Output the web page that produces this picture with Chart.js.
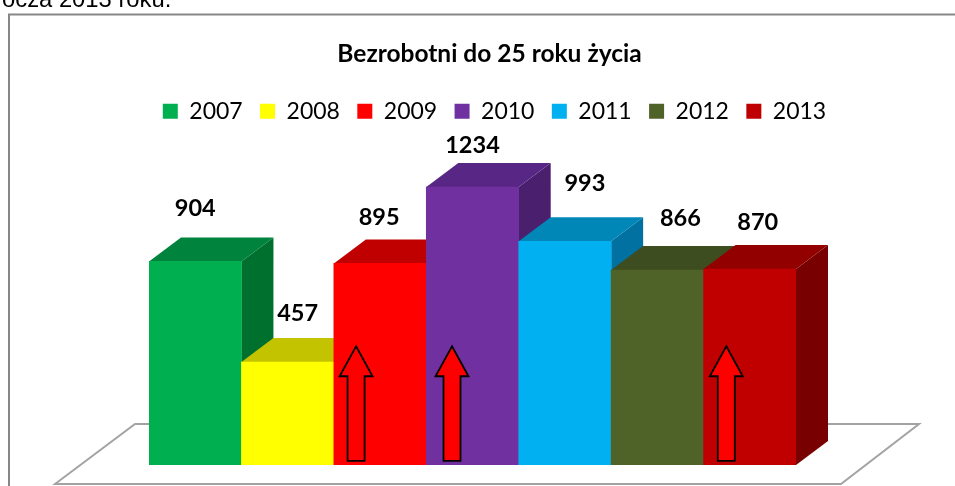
<!DOCTYPE html>
<html lang="pl"><head><meta charset="utf-8">
<style>
html,body{margin:0;padding:0;background:#fff;width:955px;height:486px;overflow:hidden}
#wrap{position:absolute;left:0;top:0;width:955px;height:486px}
#cap{position:absolute;left:2px;top:-16px;font:23.8px "Liberation Sans",Arial,sans-serif;color:#000;white-space:nowrap;line-height:30px}
</style></head><body>
<div id="wrap"><canvas id="c" width="955" height="486"></canvas></div>
<div id="cap">ocza 2013 roku.</div>
<script src="https://cdn.jsdelivr.net/npm/chart.js@4/dist/chart.umd.min.js"></script>
<script>
const titleText = "Bezrobotni do 25 roku życia";
const years = ["2007","2008","2009","2010","2011","2012","2013"];
const values = [904,457,895,1234,993,866,870];
const frontColors = ["#00B050","#FFFF00","#FF0000","#7030A0","#00B0F0","#4F6228","#C00000"];
const topColors = ["#00833C","#C3C300","#C00000","#582785","#0087B8","#3E4D20","#930000"];
const sideColors = ["#00702F","#A5A500","#A00000","#4A1F6D","#0071A0","#36431C","#780000"];
const labelOffsetX = [0,10,-1,0,20,23,8];
const labelOffsetY = [53,49,46,42,58,52,47];
const arrowYears = ["2009","2010","2013"];
const arrowOffsetX = [-24,-20.5,-23.5];

const DX = 32, DY = 24;
const scene = {
  id:"scene",
  afterLayout(ch){
    const t = ch.titleBlock; t.left -= 10;
  },
  beforeDatasetsDraw(ch){
    const g = ch.ctx, x = ch.scales.x, y = ch.scales.y, y0 = y.getPixelForValue(0);
    g.save();
    g.strokeStyle="#878787"; g.lineWidth=2;
    g.strokeRect(9,14.5,1000,520);
    g.strokeStyle="#A3A3A3"; g.lineWidth=2; g.fillStyle="#fff";
    g.beginPath();
    g.moveTo(x.left-94,y0+19); g.lineTo(x.left-14,y0-41);
    g.lineTo(x.right+123,y0-41); g.lineTo(x.right+45,y0+19); g.closePath();
    g.fill(); g.stroke();
    const m = ch.getDatasetMeta(0);
    m.data.forEach((b,i)=>{
      const hw = b.width/2, l=b.x-hw, r=b.x+hw, t=b.y;
      g.fillStyle=sideColors[i];
      g.beginPath(); g.moveTo(r,t); g.lineTo(r+DX,t-DY); g.lineTo(r+DX,y0-DY); g.lineTo(r,y0); g.closePath(); g.fill();
      g.fillStyle=topColors[i];
      g.beginPath(); g.moveTo(l,t); g.lineTo(l+DX,t-DY); g.lineTo(r+DX,t-DY); g.lineTo(r,t); g.closePath(); g.fill();
    });
    g.restore();
  },
  afterDatasetsDraw(ch){
    const g = ch.ctx, x = ch.scales.x, y = ch.scales.y;
    const m = ch.getDatasetMeta(0);
    g.save();
    arrowYears.forEach((yr,k)=>{
      const cx = m.data[years.indexOf(yr)].x + arrowOffsetX[k];
      const tip=y.getPixelForValue(527), neck=y.getPixelForValue(394), foot=y.getPixelForValue(18);
      g.beginPath();
      g.moveTo(cx,tip); g.lineTo(cx+16.5,neck); g.lineTo(cx+8.5,neck); g.lineTo(cx+8.5,foot);
      g.lineTo(cx-8.5,foot); g.lineTo(cx-8.5,neck); g.lineTo(cx-16.5,neck); g.closePath();
      g.fillStyle="#FF0000"; g.fill(); g.strokeStyle="#000"; g.lineWidth=1.8; g.lineJoin="miter"; g.stroke();
    });
    g.fillStyle="#000"; g.textAlign="center"; g.textBaseline="middle";
    g.font='bold 23.5px Lato';
    m.data.forEach((b,i)=>{
      g.fillText(String(values[i]), b.x+labelOffsetX[i], b.y-labelOffsetY[i]);
    });
    g.restore();
  }
};
new Chart(document.getElementById("c"),{
  type:"bar",
  data:{labels:years,datasets:[{data:values,backgroundColor:frontColors,borderWidth:0,barPercentage:1,categoryPercentage:1}]},
  plugins:[scene],
  options:{
    responsive:false,animation:false,
    layout:{padding:{left:34,right:0,top:24,bottom:21}},
    plugins:{
      tooltip:{enabled:false},
      title:{display:true,text:titleText,color:"#000",font:{family:"Lato",size:24.5,weight:"bold"},padding:{top:15,bottom:14}},
      legend:{display:true,position:"top",
        labels:{boxWidth:15,boxHeight:15,padding:17.4,color:"#000",font:{family:"Lato",size:23},
          generateLabels(){return years.map((t,i)=>({text:t,fillStyle:frontColors[i],strokeStyle:frontColors[i],lineWidth:0,index:i,hidden:false}));}
        }}
    },
    scales:{
      x:{display:false,offset:true,grid:{display:false}},
      y:{position:"left",min:0,max:1475,display:true,grid:{display:false},border:{display:false},ticks:{display:false},afterFit(s){s.width=115;}},
      y2:{position:"right",min:0,max:1475,display:true,grid:{display:false},border:{display:false},ticks:{display:false},afterFit(s){s.width=159;}}
    }
  }
});
</script>
</body></html>
